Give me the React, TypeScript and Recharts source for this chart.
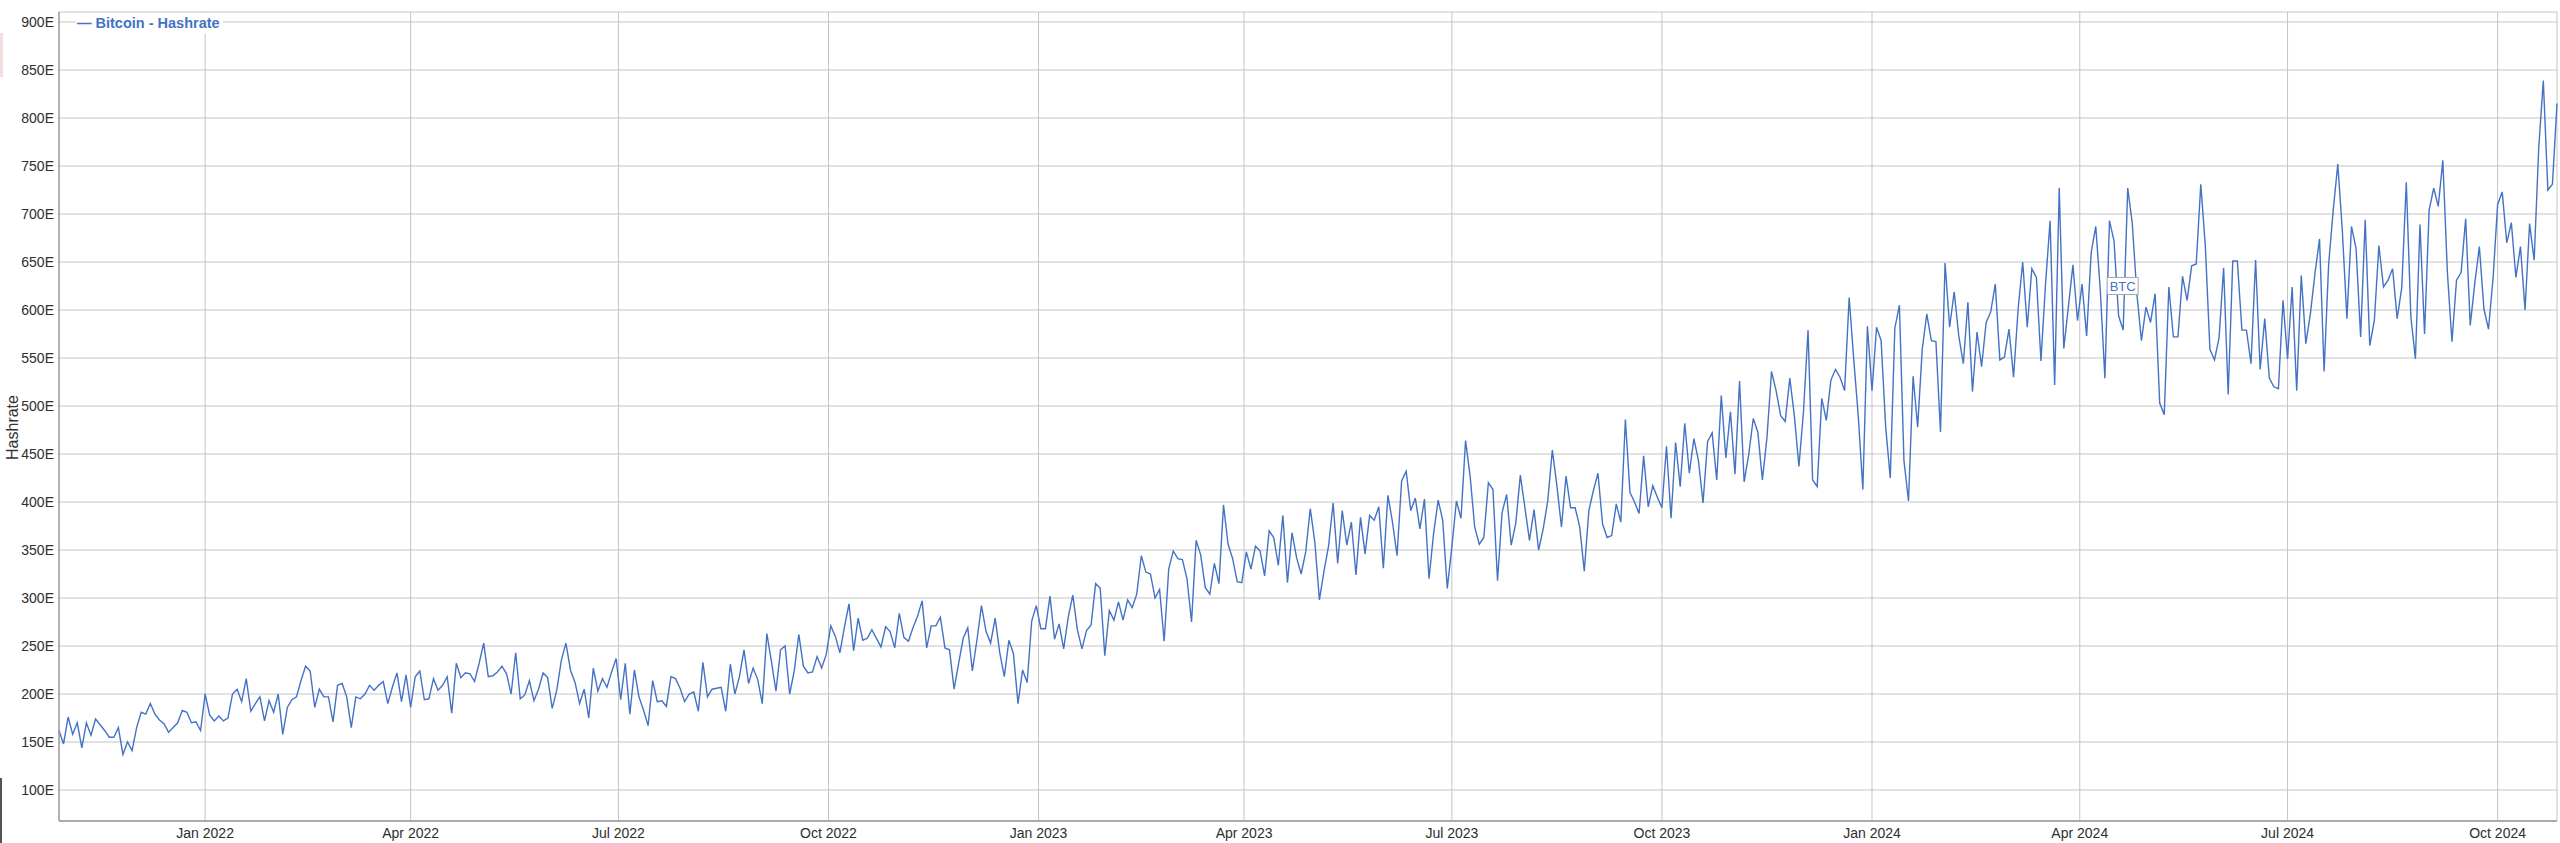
import React from 'react';
import { LineChart, Line, XAxis, YAxis, CartesianGrid, ReferenceDot, Label } from 'recharts';

const FONT = '"Liberation Sans", Arial, Helvetica, sans-serif';
const DAY_MS = 86400000;
const SERIES_START = Date.UTC(2021, 9, 29);
const STEP_DAYS = 2;

// Bitcoin network hashrate (EH/s), one reading every 2 days
const hashrateOct21 = [162,148,176,158,170,144,170,157,174,168,162,155,155,165,137,150,141,165,181,179,190,179,173,169,160,165,170,183,181,170,171,162,200,178,172,177,172,175,200,205,192,216,182,190,197,172,193,181,200,158,186,194,197,214,229,224,186,205,197,197,171,209,211,197,165,197,195,200,209,204,209,213];
const hashrateMar22 = [190,207,222,192,220,186,218,224,194,195,216,204,209,218,180,232,217,222,221,213,232,253,218,219,223,229,221,200,243,195,199,214,193,205,222,217,185,204,235,253,225,212,190,205,175,227,203,216,207,223,237,194,232,179,225,197,183,167,214,192,193,187,218,216,206,192,200,202,182,233];
const hashrateAug22 = [197,205,206,207,182,231,200,218,246,211,227,215,190,263,234,203,246,250,200,224,262,229,222,223,239,227,241,271,260,243,270,294,245,279,256,258,267,258,249,270,265,248,284,259,255,269,281,297,248,271,271,280,248,246,205,232,258,269,224,256,292,265,253,279,243,218,256,242,190,225,212];
const hashrateDec22 = [276,292,268,268,302,257,273,247,280,303,267,247,266,272,315,310,240,287,277,296,277,298,290,304,344,327,325,300,309,255,330,349,341,340,320,275,360,345,311,304,336,315,397,356,341,317,316,348,330,354,349,323,370,363,334,386,316,368,342,325,348,393,358,298,328,354,399,336,391,355];
const hashrateMay23 = [379,324,384,346,386,381,395,331,407,379,344,422,432,391,404,372,403,320,367,402,381,310,353,401,383,464,427,374,356,363,420,413,318,389,408,355,378,428,394,360,392,350,372,401,454,417,374,427,394,394,374,328,391,412,430,377,363,365,398,379,486,410,400,388,448,395,417,405,394,458];
const hashrateOct23 = [383,462,416,482,430,466,443,399,463,472,423,511,446,494,429,526,421,449,487,473,423,467,536,516,490,484,529,490,437,494,579,423,416,508,485,527,538,530,516,613,549,489,413,583,516,582,568,478,425,581,605,443,401,531,478,559,596,568,567,473,649,582,619,573,544,608,515,577,541,587];
const hashrateFeb24 = [598,627,548,551,580,530,601,650,582,643,634,547,627,693,522,727,560,603,647,589,627,573,660,687,620,529,693,672,594,579,727,690,617,568,603,587,617,503,491,624,572,572,635,610,646,648,731,666,559,548,571,644,512,651,651,579,579,544,652,538,591,529,520,518,610,549,624,516,636,565];
const hashrateJul24 = [596,638,674,536,648,704,752,682,591,687,664,572,694,563,589,667,624,631,643,591,623,733,593,549,689,575,704,727,708,756,639,567,631,639,695,584,628,666,601,580,633,710,723,670,691,634,666,600,690,652,769,839,725,731,815];

const hashrateAll = [
  ...hashrateOct21, ...hashrateMar22, ...hashrateAug22, ...hashrateDec22,
  ...hashrateMay23, ...hashrateOct23, ...hashrateFeb24, ...hashrateJul24,
];

const tickLabels = ['Jan 2022', 'Apr 2022', 'Jul 2022', 'Oct 2022', 'Jan 2023', 'Apr 2023', 'Jul 2023', 'Oct 2023', 'Jan 2024', 'Apr 2024', 'Jul 2024', 'Oct 2024'];
const tickYearMonth: [number, number][] = [[2022,0],[2022,3],[2022,6],[2022,9],[2023,0],[2023,3],[2023,6],[2023,9],[2024,0],[2024,3],[2024,6],[2024,9]];
const yTicks = [100, 150, 200, 250, 300, 350, 400, 450, 500, 550, 600, 650, 700, 750, 800, 850, 900];
const seriesName = 'Bitcoin - Hashrate';
const annotationText = 'BTC';
const annotationDate = Date.UTC(2024, 3, 20);
const annotationValue = 625;

const tickTimes = tickYearMonth.map(([y, m]) => Date.UTC(y, m, 1));
const data = hashrateAll.map((v, i) => ({ t: SERIES_START + i * STEP_DAYS * DAY_MS, v }));

const BLUE = '#4472C4';

const BtcFlag = (props: any) => {
  const { cx, cy } = props;
  if (cx == null || cy == null) return null;
  return (
    <g>
      <rect x={cx - 16} y={cy - 8.5} width={31} height={17} fill="#ffffff" stroke="#a8a8a8" strokeWidth={1} />
      <text x={cx - 0.5} y={cy + 0.5} textAnchor="middle" dominantBaseline="central" fontSize={13} fill={BLUE} fontFamily={FONT}>
        {annotationText}
      </text>
    </g>
  );
};

const YTitle = (props: any) => {
  const vb = props.viewBox || { x: 0, y: 12, width: 59, height: 809 };
  const cx = 12;
  const cy = vb.y + vb.height / 2 + 11;
  return (
    <text x={cx} y={cy} transform={`rotate(-90 ${cx} ${cy})`} textAnchor="middle" dominantBaseline="central" fontSize={16} fill="#333" fontFamily={FONT}>
      Hashrate
    </text>
  );
};

export default function App() {
  return (
    <div style={{ position: 'absolute', left: 0, top: 0, width: 2560, height: 843, background: '#fff', overflow: 'hidden', fontFamily: FONT }}>
      <LineChart width={2560} height={843} data={data} margin={{ top: 12, right: 3, bottom: 0, left: 0 }}>
        <CartesianGrid stroke="#c4c4c4" strokeWidth={1} />
        <XAxis
          type="number"
          dataKey="t"
          domain={['dataMin', 'dataMax']}
          ticks={tickTimes}
          interval={0}
          tickFormatter={(t: number) => tickLabels[tickTimes.indexOf(t)] ?? ''}
          height={22}
          tickLine={false}
          tickSize={0}
          tickMargin={7}
          axisLine={{ stroke: '#999999', strokeWidth: 1.3 }}
          tick={{ fill: '#2e2e2e', fontSize: 14, fontFamily: FONT }}
        />
        <YAxis
          type="number"
          domain={[67.7, 910.4]}
          allowDataOverflow
          ticks={yTicks}
          interval={0}
          width={59}
          tickFormatter={(v: number) => `${v}E`}
          tickLine={false}
          tickSize={0}
          tickMargin={5}
          axisLine={{ stroke: '#999999', strokeWidth: 1.3 }}
          tick={{ fill: '#2e2e2e', fontSize: 14, fontFamily: FONT }}
        >
          <Label content={YTitle} />
        </YAxis>
        <Line
          type="linear"
          dataKey="v"
          stroke={BLUE}
          strokeWidth={1.4}
          dot={false}
          activeDot={false}
          isAnimationActive={false}
        />
        <ReferenceDot x={annotationDate} y={annotationValue} r={8} shape={BtcFlag} ifOverflow="visible" />
      </LineChart>
      <div
        style={{
          position: 'absolute', left: 76, top: 13, height: 21, padding: '0 3px 0 1px', background: '#fff',
          color: BLUE, fontWeight: 'bold', fontSize: 14.5, lineHeight: '21px', fontFamily: FONT, whiteSpace: 'nowrap',
        }}
      >
        {'\u2014 ' + seriesName}
      </div>
      <div style={{ position: 'absolute', left: 0, top: 33, width: 3, height: 44, background: '#f3dede' }} />
      <div style={{ position: 'absolute', left: 0, top: 778, width: 2, height: 65, background: '#555' }} />
    </div>
  );
}
